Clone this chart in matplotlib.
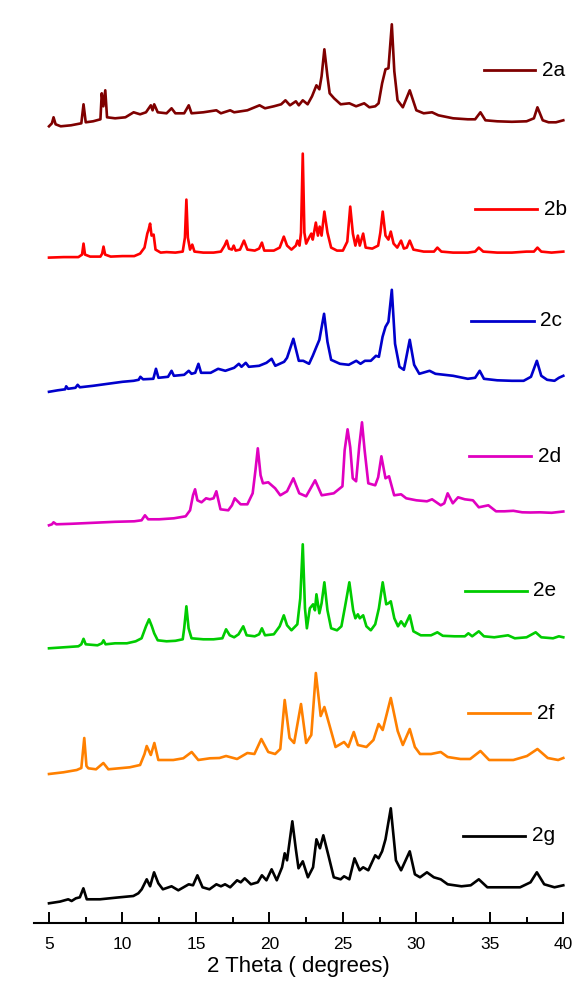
import numpy as np
import matplotlib
matplotlib.use("Agg")
import matplotlib.pyplot as plt
from matplotlib.ticker import MultipleLocator

plt.rcParams['font.family'] = ['Liberation Sans', 'DejaVu Sans']

# ---------------- data: (2theta, intensity) vertices ----------------
names = ["2a", "2b", "2c", "2d", "2e", "2f", "2g"]
colors = ["#7f0000", "#ff0000", "#0000cc", "#e000c0", "#00cc00", "#ff8000", "#000000"]

pts_2a = [(5.0, 0), (5.2, 3), (5.31, 9), (5.45, 2), (5.8, 0), (6.5, 1), (7.2, 3), (7.35, 22), (7.5, 4),
          (8.0, 5), (8.5, 7), (8.59, 33), (8.7, 20), (8.83, 36), (8.95, 9), (9.5, 8), (10.2, 9), (10.76, 14),
          (11.2, 12), (11.6, 14), (11.93, 21), (12.05, 16), (12.16, 22), (12.4, 14), (13.0, 13), (13.34, 18),
          (13.6, 13), (14.2, 13), (14.51, 21), (14.7, 13), (15.5, 14), (16.39, 16), (16.7, 13), (17.33, 16),
          (17.6, 14), (18.5, 16), (19.33, 21), (19.7, 18), (20.3, 20), (20.8, 22), (21.09, 26), (21.4, 21),
          (21.8, 25), (22.0, 21), (22.27, 26), (22.6, 22), (22.9, 30), (23.2, 41), (23.4, 37), (23.55, 50),
          (23.74, 77), (23.95, 50), (24.1, 33), (24.4, 28), (24.85, 22), (25.44, 23), (25.9, 20), (26.45, 23),
          (26.8, 19), (27.2, 20), (27.43, 23), (27.67, 43), (27.9, 57), (28.1, 58), (28.33, 102), (28.5, 55),
          (28.72, 26), (29.08, 19), (29.55, 36), (30.0, 16), (30.5, 13), (31.07, 14), (31.5, 11), (32.5, 8),
          (33.5, 7), (34.0, 7), (34.36, 14), (34.7, 6), (35.5, 5), (36.5, 4.5), (37.5, 5), (38.0, 8),
          (38.24, 19), (38.6, 6), (39.0, 4), (39.5, 4), (40.0, 6)]

pts_2b = [(5.0, 0), (6.0, 0.5), (7.0, 0.5), (7.25, 3), (7.35, 14), (7.45, 3), (7.8, 1), (8.5, 1), (8.62, 4),
          (8.71, 11), (8.82, 3), (9.2, 1), (10.0, 1.5), (10.8, 1.5), (11.2, 4), (11.5, 10), (11.69, 24),
          (11.78, 28), (11.88, 34), (11.98, 22), (12.12, 23), (12.25, 8), (12.6, 5), (13.0, 5.5), (13.6, 5),
          (14.1, 6), (14.25, 20), (14.35, 58), (14.45, 20), (14.6, 8), (14.75, 13), (14.9, 6), (15.5, 5),
          (16.2, 5), (16.7, 6), (16.95, 12), (17.1, 17), (17.25, 9), (17.45, 8), (17.57, 12), (17.7, 7),
          (18.0, 8), (18.27, 17), (18.5, 8), (19.0, 7), (19.3, 9), (19.49, 15), (19.65, 7), (20.3, 7),
          (20.7, 10), (20.98, 21), (21.2, 12), (21.5, 8), (21.8, 12), (21.91, 17), (22.05, 12), (22.15, 25),
          (22.27, 104), (22.38, 25), (22.5, 14), (22.7, 20), (22.85, 24), (22.95, 18), (23.16, 35), (23.3, 22),
          (23.42, 31), (23.55, 22), (23.74, 46), (23.95, 25), (24.2, 10), (24.6, 7), (25.0, 7), (25.3, 16),
          (25.5, 51), (25.68, 24), (25.85, 12), (26.02, 22), (26.15, 12), (26.38, 24), (26.55, 10), (27.0, 9),
          (27.4, 12), (27.55, 25), (27.71, 46), (27.9, 22), (28.1, 18), (28.26, 26), (28.45, 14), (28.7, 10),
          (28.96, 17), (29.15, 9), (29.35, 10), (29.55, 17), (29.8, 8), (30.5, 6), (31.2, 6), (31.43, 10),
          (31.7, 6), (32.5, 5), (33.5, 5), (34.0, 6), (34.25, 10), (34.55, 6), (35.5, 5), (36.5, 5), (37.5, 6),
          (38.0, 6), (38.24, 10), (38.5, 6), (39.2, 5), (40.0, 6)]

pts_2c = [(5.0, 0), (5.6, 1.5), (6.1, 2.5), (6.17, 5.5), (6.3, 3), (6.8, 4), (6.95, 7), (7.1, 4.5), (8.0, 6),
          (9.0, 8), (10.0, 10), (10.76, 11), (11.1, 12), (11.22, 15), (11.4, 12.5), (12.1, 13), (12.28, 23),
          (12.45, 14), (13.1, 15), (13.34, 21), (13.5, 16), (14.2, 17), (14.51, 21), (14.7, 18), (14.95, 19),
          (15.17, 28), (15.35, 19), (16.0, 19), (16.51, 23), (17.0, 21), (17.6, 24), (17.92, 28), (18.1, 25),
          (18.39, 29), (18.6, 25), (19.3, 26), (19.8, 29), (20.15, 33), (20.4, 26), (21.0, 30), (21.2, 34),
          (21.63, 53), (22.0, 31), (22.3, 31), (22.7, 28), (22.95, 36), (23.2, 45), (23.4, 52), (23.72, 78),
          (23.95, 50), (24.2, 32), (24.8, 28), (25.4, 27), (25.91, 31), (26.2, 28), (26.5, 31), (26.9, 31),
          (27.25, 36), (27.45, 35), (27.7, 55), (27.9, 65), (28.1, 70), (28.33, 102), (28.55, 48), (28.85, 25),
          (29.15, 22), (29.55, 52), (29.85, 27), (30.2, 18), (30.9, 21), (31.3, 18), (32.5, 16), (33.5, 13),
          (34.0, 14), (34.31, 21), (34.6, 13), (35.5, 11.5), (36.5, 11), (37.3, 11), (37.8, 15), (38.2, 31),
          (38.5, 16), (38.9, 12), (39.4, 11), (39.7, 14), (40.0, 16)]

pts_2d = [(5.0, 0), (5.2, 1), (5.31, 3), (5.5, 1), (6.5, 1.5), (8.0, 2.5), (9.5, 3.5), (10.8, 4), (11.3, 5),
          (11.53, 10), (11.75, 6), (12.5, 6), (13.5, 7), (14.3, 9), (14.6, 15), (14.8, 30), (14.94, 36),
          (15.1, 25), (15.38, 23), (15.69, 27), (15.95, 26), (16.2, 27), (16.39, 34), (16.67, 16), (17.2, 15),
          (17.45, 20), (17.64, 27), (18.04, 21), (18.5, 21), (18.86, 32), (19.05, 55), (19.21, 77), (19.4, 50),
          (19.56, 42), (19.92, 43), (20.39, 37), (20.74, 30), (21.2, 34), (21.63, 47), (22.03, 32), (22.5, 29),
          (23.11, 45), (23.56, 30), (24.38, 32), (24.97, 39), (25.12, 75), (25.32, 96), (25.5, 78), (25.67, 47),
          (25.9, 44), (26.12, 80), (26.3, 103), (26.48, 75), (26.73, 42), (27.2, 40), (27.4, 48), (27.62, 69),
          (27.9, 47), (28.14, 49), (28.49, 30), (28.96, 31), (29.31, 27), (30.0, 25), (30.72, 24), (31.07, 26),
          (31.66, 20), (31.9, 22), (32.13, 32), (32.48, 22), (32.84, 28), (33.3, 26), (33.85, 25), (34.25, 18),
          (34.9, 20), (35.42, 14), (36.0, 14), (36.6, 14.5), (37.2, 13), (37.77, 12.8), (38.4, 13), (39.2, 12.5),
          (40.0, 13.8)]

pts_2e = [(5.0, 0), (6.0, 1), (7.0, 2), (7.2, 4), (7.35, 9.5), (7.5, 4), (8.3, 3), (8.6, 5), (8.71, 8),
          (8.85, 4), (9.5, 5), (10.3, 5), (10.9, 7), (11.3, 10), (11.6, 22), (11.81, 29), (12.0, 22),
          (12.16, 15), (12.4, 8), (13.0, 7), (13.6, 7.5), (14.1, 9), (14.2, 20), (14.35, 42), (14.5, 20),
          (14.7, 10), (15.5, 9), (16.2, 9), (16.8, 10), (17.05, 19), (17.3, 13), (17.6, 11), (17.9, 14),
          (18.22, 22), (18.45, 13), (19.0, 12), (19.3, 14), (19.49, 20), (19.7, 13), (20.3, 14), (20.7, 22),
          (20.98, 33), (21.2, 23), (21.5, 18), (21.9, 24), (22.1, 50), (22.27, 104), (22.42, 40), (22.55, 20),
          (22.75, 40), (22.97, 44), (23.1, 38), (23.2, 54), (23.4, 35), (23.55, 45), (23.74, 66), (23.95, 38),
          (24.2, 20), (24.6, 18), (24.9, 22), (25.15, 42), (25.44, 66), (25.7, 38), (25.85, 30), (26.02, 34),
          (26.15, 30), (26.38, 33), (26.6, 22), (26.9, 18), (27.2, 24), (27.45, 40), (27.71, 66), (27.95, 44),
          (28.1, 45), (28.26, 47), (28.5, 30), (28.75, 22), (28.96, 27), (29.2, 22), (29.55, 33), (29.8, 17),
          (30.3, 13), (31.0, 13), (31.43, 16), (31.8, 12.5), (32.6, 12), (33.3, 12), (33.54, 15), (33.8, 12),
          (34.25, 17), (34.6, 12), (35.3, 11), (36.24, 13), (36.7, 10), (37.5, 11), (38.12, 16), (38.5, 11),
          (39.3, 10), (39.7, 12), (40.0, 11)]

pts_2f = [(5.0, 0), (5.98, 1.7), (6.89, 4), (7.2, 6), (7.4, 36), (7.55, 8), (7.68, 5.7), (8.2, 4.7),
          (8.7, 11), (9.04, 4.7), (10.5, 6.7), (11.2, 9), (11.5, 20), (11.65, 28), (11.93, 19), (12.17, 31),
          (12.44, 14), (13.46, 14), (14.14, 15.7), (14.71, 22), (15.16, 14), (15.95, 15.7), (16.6, 16),
          (17.05, 18), (17.8, 15), (18.5, 21), (18.98, 20), (19.45, 35), (19.92, 22), (20.39, 20), (20.74, 25),
          (21.04, 74), (21.37, 36), (21.68, 31), (22.15, 70), (22.5, 31), (22.85, 39), (23.16, 101), (23.49, 58),
          (23.74, 67), (24.14, 46), (24.5, 27), (25.08, 32), (25.37, 27), (25.74, 42), (26.02, 29), (26.6, 27),
          (27.08, 34), (27.43, 50), (27.71, 44), (28.26, 76), (28.73, 43), (29.08, 29), (29.55, 45), (29.9, 27),
          (30.25, 20), (31.0, 20), (31.66, 22), (32.13, 17), (33.0, 15), (33.66, 15), (34.36, 23), (34.95, 14),
          (35.8, 14), (36.6, 14), (37.53, 18), (38.24, 25), (38.94, 16), (39.65, 14), (40.0, 16)]

pts_2g = [(5.0, 0), (5.75, 1.7), (6.31, 4), (6.54, 2.3), (6.83, 5), (7.1, 6), (7.34, 15), (7.57, 4),
          (8.47, 4), (9.6, 5.7), (10.74, 7.3), (11.08, 10), (11.31, 14), (11.65, 24), (11.88, 17), (12.15, 31),
          (12.44, 20), (12.75, 14), (13.34, 17), (13.8, 13), (14.51, 19), (14.8, 18), (15.1, 28), (15.45, 16),
          (15.92, 14), (16.39, 19), (16.7, 17), (16.98, 19), (17.33, 16), (17.8, 23), (18.05, 21), (18.32, 25),
          (18.74, 19), (19.21, 21), (19.49, 28), (19.8, 23), (20.15, 34), (20.5, 23), (20.86, 36), (21.04, 50),
          (21.2, 43), (21.56, 82), (21.8, 54), (21.98, 35), (22.27, 42), (22.62, 26), (22.97, 36), (23.2, 64),
          (23.44, 55), (23.67, 68), (24.03, 47), (24.38, 26), (24.85, 24), (25.08, 27), (25.44, 24), (25.79, 45),
          (26.14, 33), (26.38, 36), (26.73, 33), (27.2, 48), (27.43, 45), (27.67, 52), (27.9, 64), (28.26, 95),
          (28.61, 43), (28.96, 33), (29.55, 52), (29.9, 29), (30.25, 26), (30.72, 31), (31.19, 26), (31.66, 24),
          (32.13, 19), (33.07, 17), (33.7, 18), (34.25, 24), (34.83, 16), (36.0, 16), (37.06, 16), (37.77, 21),
          (38.2, 31), (38.7, 19), (39.4, 16), (40.0, 18)]

series_pts = [pts_2a, pts_2b, pts_2c, pts_2d, pts_2e, pts_2f, pts_2g]

# ---------------- layout (stacking offsets, label placement) ----------------
offsets = [796.4, 665.1, 530.9, 397.4, 274.4, 148.7, 19.4]
label_line_x = [(34.57, 38.10), (33.97, 38.22), (33.73, 37.98), (33.58, 37.81),
                (33.32, 37.51), (33.50, 37.74), (33.15, 37.39)]
label_y = [852.5, 713.5, 601.8, 466.3, 332.1, 209.4, 87.0]

W, H = 582, 990
fig = plt.figure(figsize=(W / 100, H / 100), dpi=100)
ax = fig.add_axes([34.3 / W, 67.3 / H, (563.3 - 34.3) / W, 922.7 / H])

for pts, off, col in zip(series_pts, offsets, colors):
    arr = np.array(pts, dtype=float)
    ax.plot(arr[:, 0], arr[:, 1] + off, color=col, lw=1.9, solid_joinstyle='round', clip_on=False)

for name, col, (x0, x1), y in zip(names, colors, label_line_x, label_y):
    ax.plot([x0, x1], [y, y], color=col, lw=2.0, clip_on=False)
    ax.text(x1 + 0.45, y, name, fontsize=15, color='black', va='center', ha='left')

ax.set_xlim(4, 40)
ax.set_ylim(0, 922.7)
for s in ['left', 'right', 'top']:
    ax.spines[s].set_visible(False)
ax.spines['bottom'].set_linewidth(1.5)
ax.set_yticks([])
ax.xaxis.set_major_locator(MultipleLocator(5))
ax.xaxis.set_minor_locator(MultipleLocator(2.5))
ax.set_xticks([5, 10, 15, 20, 25, 30, 35, 40])
ax.tick_params(axis='x', which='major', direction='in', length=8, width=1.4, labelsize=12.5, pad=10)
ax.tick_params(axis='x', which='minor', direction='in', length=4, width=1.4)
ax.set_xlabel("2 Theta ( degrees)", fontsize=16, labelpad=3)

fig.savefig("out.png", dpi=100)
